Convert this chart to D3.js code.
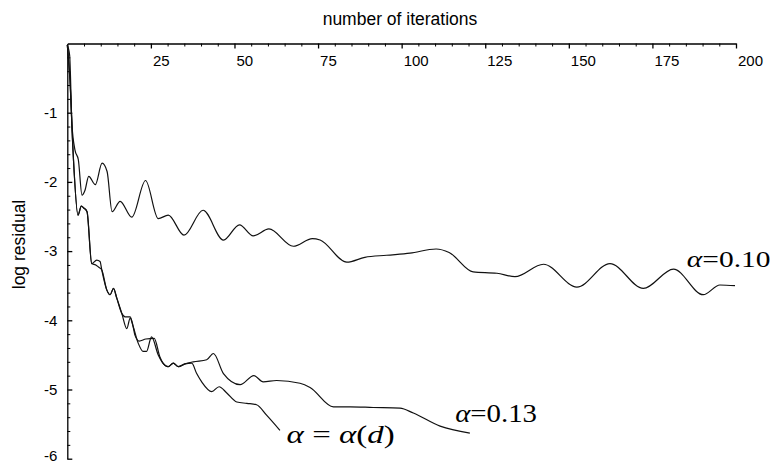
<!DOCTYPE html>
<html>
<head>
<meta charset="utf-8">
<script src="https://cdn.jsdelivr.net/npm/d3@7"></script>
<style>
  html, body { margin: 0; padding: 0; background: #fff; }
  svg { display: block; }
</style>
</head>
<body>
<svg id="chart" width="771" height="464"></svg>
<script>
// ---- data ----
const xTicks = [25, 50, 75, 100, 125, 150, 175, 200];
const yTicks = [-1, -2, -3, -4, -5, -6];

const iterA010 = [0, 0.7, 1.4, 2.3, 3.3, 4.4, 5.3, 6.4, 8.4, 10.4, 11.9, 13.4, 15.8, 19.3, 23.4, 27.2, 30.2, 34.9, 40.6, 46.7, 51.5, 55.6, 60.3, 67.6, 73.3, 75.6, 83.6, 89, 95.5, 102.5, 110.3, 114.2, 121.4, 128.5, 133.9, 142.4, 152.4, 162.3, 172.3, 181.3, 190.2, 195.2, 199.7];
const resA010  = [-0.02, -0.17, -1.18, -1.54, -1.68, -2.19, -2.12, -1.92, -2.04, -1.73, -1.85, -2.43, -2.28, -2.51, -1.98, -2.53, -2.48, -2.77, -2.41, -2.84, -2.62, -2.78, -2.68, -2.93, -2.82, -2.84, -3.16, -3.09, -3.06, -3.03, -2.97, -3.02, -3.30, -3.32, -3.37, -3.19, -3.52, -3.18, -3.54, -3.26, -3.63, -3.49, -3.50];

const iterA013 = [0, 0.8, 1.7, 3.2, 4.2, 5.0, 5.9, 7.3, 8.8, 9.8, 10.3, 11.8, 12.8, 13.8, 14.8, 16.3, 17.3, 18.8, 19.7, 20.2, 21.5, 23.5, 26.0, 27.7, 29.2, 30.2, 31.7, 33.2, 35.2, 37.7, 41.7, 43.7, 46.7, 51.7, 55.8, 58.6, 62.6, 69.6, 72.6, 79.6, 84.6, 91.5, 99.5, 103.5, 111.5, 120.4];
const resA013  = [-0.02, -0.53, -1.54, -2.48, -2.35, -2.38, -2.43, -3.18, -3.13, -3.15, -3.27, -3.56, -3.63, -3.54, -3.68, -3.90, -3.95, -3.95, -4.09, -4.21, -4.30, -4.27, -4.26, -4.53, -4.65, -4.67, -4.62, -4.67, -4.63, -4.60, -4.57, -4.48, -4.77, -4.93, -4.80, -4.89, -4.87, -4.91, -4.97, -5.25, -5.25, -5.26, -5.27, -5.34, -5.53, -5.63];

const iterAd = [0, 0.8, 1.7, 3.2, 4.2, 5.0, 5.9, 7.3, 8.5, 9.3, 10.3, 11.8, 12.8, 13.8, 14.8, 16.3, 17.8, 18.8, 19.7, 21.2, 22.7, 23.7, 25.2, 27.2, 29.2, 30.2, 31.7, 33.2, 35.2, 37.2, 38.7, 40.2, 43.2, 45.4, 47.7, 50.7, 53.7, 56.6, 59.6, 63.6];
const resAd  = [-0.02, -0.53, -1.54, -2.48, -2.35, -2.38, -2.43, -3.18, -3.20, -3.23, -3.27, -3.56, -3.63, -3.54, -3.68, -3.90, -4.12, -3.97, -4.09, -4.33, -4.45, -4.45, -4.24, -4.50, -4.65, -4.67, -4.62, -4.67, -4.63, -4.62, -4.77, -4.89, -5.03, -4.96, -5.05, -5.18, -5.20, -5.22, -5.37, -5.59];

const labelText = ["α=0.10", "α=0.13", "α = α(d)"];
const labelIter = [185.3, 116, 65.6];
const labelRes  = [-3.234, -5.465, -5.77];
const labelSpan = [25, 24.5, 32.3];   // label width, in iterations

// ---- drawing ----
const svg = d3.select("#chart");
const x = d3.scaleLinear().domain([0, 200]).range([67.3, 736]);
const y = d3.scaleLinear().domain([0, -6]).range([43.5, 458.7]);

const axisFont = "'Liberation Sans', Arial, Helvetica, sans-serif";

// x axis on top, ticks pointing down
const minorX = d3.range(5, 201, 5).filter(v => v % 25 !== 0);
const gxMinor = svg.append("g").attr("transform", `translate(0,${y(0)})`)
  .call(d3.axisBottom(x).tickValues(minorX).tickSize(3).tickSizeOuter(0).tickFormat(""));
gxMinor.select(".domain").remove();

const gx = svg.append("g").attr("transform", `translate(0,${y(0)})`)
  .call(d3.axisBottom(x).tickValues(xTicks).tickSize(5).tickSizeOuter(0).tickPadding(6.5).tickFormat(d => String(d)));
gx.selectAll("text")
  .attr("text-anchor", "start").attr("x", 1.5)
  .style("font-family", axisFont).style("font-size", "15px").attr("fill", "#000");
gx.selectAll("line,path").attr("stroke", "#000").attr("stroke-width", 1.3);
gxMinor.selectAll("line").attr("stroke", "#000").attr("stroke-width", 1);

// y axis on left, ticks pointing right
const minorY = d3.range(1, 30).map(i => -i * 0.2).filter(v => Math.abs(v - Math.round(v)) > 1e-6);
const gyMinor = svg.append("g").attr("transform", `translate(${x(0)},0)`)
  .call(d3.axisLeft(y).tickValues(minorY).tickSize(-3).tickSizeOuter(0).tickFormat(""));
gyMinor.select(".domain").remove();
gyMinor.selectAll("line").attr("stroke", "#000").attr("stroke-width", 1);

const gy = svg.append("g").attr("transform", `translate(${x(0)},0)`)
  .call(d3.axisLeft(y).tickValues(yTicks).tickSize(-5).tickSizeOuter(0).tickPadding(10).tickFormat(d => String(d)));
gy.selectAll("text").style("font-family", axisFont).style("font-size", "15px").attr("fill", "#000")
  .attr("dy", d => d === -6 ? "0.1em" : "0.32em");
gy.selectAll("line,path").attr("stroke", "#000").attr("stroke-width", 1.3);

// axis titles
svg.append("text").attr("x", 400).attr("y", 25).attr("text-anchor", "middle")
  .style("font-family", axisFont).style("font-size", "17.5px").text("number of iterations");
svg.append("text").attr("transform", "translate(24.5,244.5) rotate(-90)").attr("text-anchor", "middle")
  .style("font-family", axisFont).style("font-size", "17.5px").text("log residual");

// curves
const line = d3.line().x(d => x(d[0])).y(d => y(d[1])).curve(d3.curveMonotoneX);
const series = [
  d3.zip(iterA010, resA010),
  d3.zip(iterA013, resA013),
  d3.zip(iterAd, resAd)
];
svg.append("g").selectAll("path").data(series).join("path")
  .attr("d", line).attr("fill", "none").attr("stroke", "#111")
  .attr("stroke-width", 1.2).attr("stroke-linejoin", "round");

// curve labels
const serif = "'Liberation Serif', 'Times New Roman', Times, serif";
const sizes = [24, 25.5, 26];
labelText.forEach((t, i) => {
  const txt = svg.append("text").attr("x", x(labelIter[i])).attr("y", y(labelRes[i]))
    .attr("textLength", x(labelIter[i] + labelSpan[i]) - x(labelIter[i]))
    .attr("lengthAdjust", "spacingAndGlyphs")
    .style("font-family", serif).style("font-size", sizes[i] + "px").attr("fill", "#000");
  const parts = t.match(/α|d|[^αd]+/g);
  parts.forEach(p => {
    const ts = txt.append("tspan").text(p);
    if (p === "α" || p === "d") ts.style("font-style", "italic");
  });
});
</script>
</body>
</html>
